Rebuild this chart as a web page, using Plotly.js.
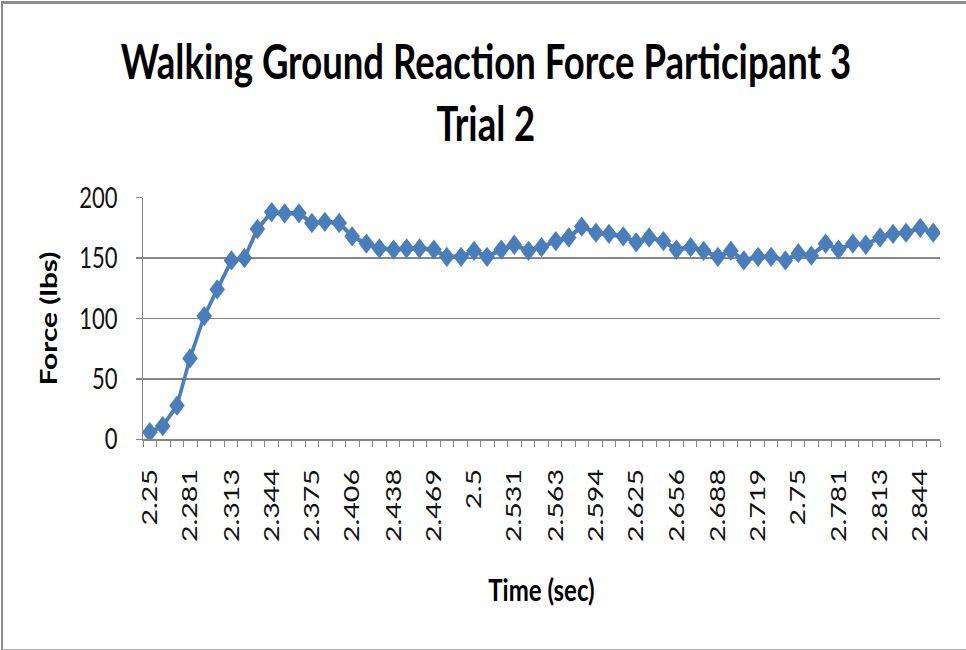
<!DOCTYPE html>
<html>
<head>
<meta charset="utf-8">
<script src="https://cdn.plot.ly/plotly-3.0.1.min.js"></script>
<style>
  html, body { margin: 0; padding: 0; background: #fff; }
  #wrap { position: relative; width: 966px; height: 650px; overflow: hidden; background: #fff; }
  #plot { position: absolute; left: 0; top: 0; width: 966px; height: 500px; transform: scaleY(1.3); transform-origin: 0 0; }
  #frame { position: absolute; left: 1px; top: 1px; width: 990px; height: 645px; border-left: 2px solid #8c8c8c; border-top: 3px solid #8c8c8c; border-bottom: 2px solid #b4b4b4; pointer-events: none; }
</style>
</head>
<body>
<div id="wrap"><div id="plot"></div><div id="frame"></div></div>
<script>
// Time (sec) of each sample
var times = [2.25, 2.26, 2.271, 2.281, 2.292, 2.302, 2.313, 2.323, 2.333, 2.344,
             2.354, 2.365, 2.375, 2.385, 2.396, 2.406, 2.417, 2.427, 2.438, 2.448,
             2.458, 2.469, 2.479, 2.49, 2.5, 2.51, 2.521, 2.531, 2.542, 2.552,
             2.563, 2.573, 2.583, 2.594, 2.604, 2.615, 2.625, 2.635, 2.646, 2.656,
             2.667, 2.677, 2.688, 2.698, 2.708, 2.719, 2.729, 2.74, 2.75, 2.76,
             2.771, 2.781, 2.792, 2.802, 2.813, 2.823, 2.833, 2.844, 2.854];
// Force (lbs)
var force = [6, 11, 28, 67, 102, 124, 148, 150, 174, 188,
             187, 187, 179, 180, 179, 168, 162, 158, 157, 158,
             158, 157, 151, 151, 156, 151, 157, 161, 156, 159,
             164, 167, 176, 171, 170, 168, 163, 167, 164, 157,
             159, 156, 151, 156, 148, 151, 151, 148, 154, 152,
             162, 157, 162, 161, 167, 170, 171, 175, 171];
// Labelled ticks on the time axis
var tickTimes = [2.25, 2.281, 2.313, 2.344, 2.375, 2.406, 2.438, 2.469, 2.5, 2.531,
                 2.563, 2.594, 2.625, 2.656, 2.688, 2.719, 2.75, 2.781, 2.813, 2.844];
var tickLabels = ['2.25', '2.281', '2.313', '2.344', '2.375', '2.406', '2.438', '2.469', '2.5', '2.531',
                  '2.563', '2.594', '2.625', '2.656', '2.688', '2.719', '2.75', '2.781', '2.813', '2.844'];
var yTicks = [0, 50, 100, 150, 200];

var n = times.length;
var step = (times[n - 1] - times[0]) / (n - 1);
var xr = [times[0] - step / 2, times[n - 1] + step / 2 + 1e-6];

var blue = '#4a7ebb';
var grey = '#868686';

var trace = {
  type: 'scatter', mode: 'lines+markers',
  x: times, y: force,
  line: { color: blue, width: 3.5 },
  marker: { symbol: 'diamond', size: 12, color: blue },
  hoverinfo: 'x+y'
};

var layout = {
  width: 966, height: 500,
  margin: { l: 143, r: 26, t: 151.5, b: 162 },
  paper_bgcolor: '#fff', plot_bgcolor: '#fff',
  showlegend: false,
  font: { family: 'Lato, "Open Sans", sans-serif', color: '#000' },
  title: {
    text: 'Walking Ground Reaction Force Participant 3<br>Trial 2',
    font: { family: 'Lato, "Open Sans", sans-serif', size: 36.5, weight: 'bold', color: '#000' },
    xref: 'container', x: 0.503, yref: 'container', y: 0.878, yanchor: 'middle', xanchor: 'center'
  },
  xaxis: {
    type: 'linear', range: xr,
    tickmode: 'array', tickvals: tickTimes, ticktext: tickLabels,
    tickangle: -90, ticks: '',
    tickfont: { size: 22, color: '#111' },
    ticklabelstandoff: 13,
    showline: true, linecolor: grey, linewidth: 1,
    showgrid: false, zeroline: false,
    minor: { tickmode: 'linear', tick0: xr[0], dtick: step, ticks: 'outside', ticklen: 5, tickcolor: grey, showgrid: false },
    title: { text: 'Time (sec)', font: { size: 24, weight: 'bold', color: '#000' }, standoff: 29 }
  },
  yaxis: {
    range: [0, 200], tickmode: 'array', tickvals: yTicks, ticktext: yTicks.map(String),
    ticks: 'outside', ticklen: 6, tickcolor: grey,
    tickfont: { size: 22, color: '#111' },
    ticklabelstandoff: 14,
    showline: true, linecolor: grey, linewidth: 1,
    showgrid: true, gridcolor: grey, gridwidth: 1, zeroline: false,
    title: { text: 'Force (lbs)', font: { size: 23, weight: 'bold', color: '#000' }, standoff: 15 }
  }
};

Plotly.newPlot('plot', [trace], layout, { displayModeBar: false, staticPlot: true });
</script>
</body>
</html>
